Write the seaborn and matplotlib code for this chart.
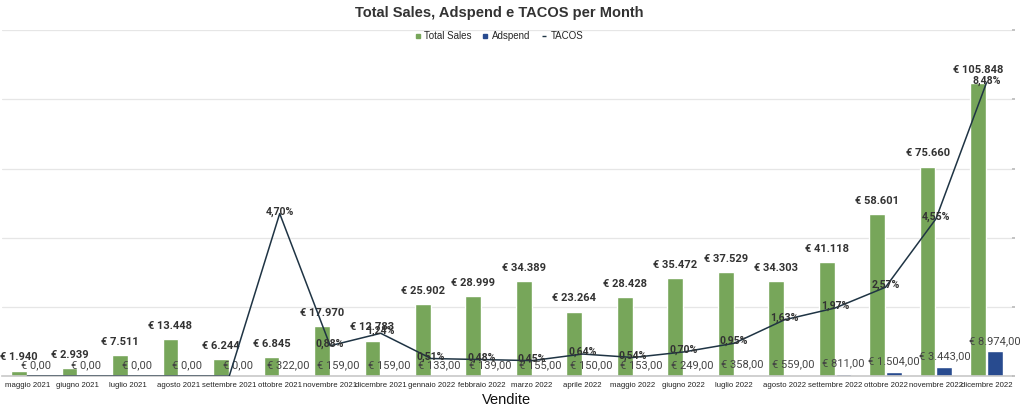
import pandas as pd
import matplotlib.pyplot as plt
import seaborn as sns
from matplotlib.lines import Line2D

# ---------- Data ----------
months = ["maggio 2021", "giugno 2021", "luglio 2021", "agosto 2021", "settembre 2021",
          "ottobre 2021", "novembre 2021", "dicembre 2021", "gennaio 2022", "febbraio 2022",
          "marzo 2022", "aprile 2022", "maggio 2022", "giugno 2022", "luglio 2022",
          "agosto 2022", "settembre 2022", "ottobre 2022", "novembre 2022", "dicembre 2022"]
total_sales = [1940, 2939, 7511, 13448, 6244, 6845, 17970, 12783, 25902, 28999,
               34389, 23264, 28428, 35472, 37529, 34303, 41118, 58601, 75660, 105848]
adspend = [0, 0, 0, 0, 0, 322, 159, 159, 133, 139,
           155, 150, 153, 249, 358, 559, 811, 1504, 3443, 8974]
tacos = [0, 0, 0, 0, 0, 4.70, 0.88, 1.24, 0.51, 0.48,
         0.45, 0.64, 0.54, 0.70, 0.95, 1.63, 1.97, 2.57, 4.55, 8.48]

GREEN = "#77a65a"
BLUE = "#284b8f"
LINE = "#1f3444"
TXT = "#333333"
ARIAL = ["Liberation Sans", "DejaVu Sans"]


def eur_int(v):
    return "€ " + f"{v:,.0f}".replace(",", ".")


def eur_dec(v):
    s = f"{v:,.2f}".replace(",", "X").replace(".", ",").replace("X", ".")
    return "€ " + s


def pct(v):
    return f"{v:.2f}%".replace(".", ",")


df = pd.DataFrame({
    "month": months * 2,
    "value": total_sales + adspend,
    "series": ["Total Sales"] * len(months) + ["Adspend"] * len(months),
})

sns.set_theme(style="white")
plt.rcParams["font.family"] = ["Roboto", "DejaVu Sans"]

fig = plt.figure(figsize=(10.24, 4.08), dpi=100)
ax = fig.add_axes([0.002, 0.078, 0.986, 0.848])

sns.barplot(data=df, x="month", y="value", hue="series", order=months,
            hue_order=["Total Sales", "Adspend"], palette=[GREEN, BLUE],
            saturation=1, width=0.66, gap=0.06, ax=ax, legend=False, zorder=2)

ax.set_ylim(0, 125000)
ax.set_xlim(-0.5, 19.5)
ax.set_yticks([25000, 50000, 75000, 100000, 125000])
ax.set_yticklabels([])
ax.grid(axis="y", color="#e6e6e6", linewidth=0.9, zorder=0)
ax.tick_params(axis="y", length=0)
ax.tick_params(axis="x", length=0, labelsize=5.6, colors="#222222", pad=4)
for lab in ax.get_xticklabels():
    lab.set_family(ARIAL)
for s in ["top", "right", "left"]:
    ax.spines[s].set_visible(False)
ax.spines["bottom"].set_color("#c8c8c8")
ax.spines["bottom"].set_linewidth(1.2)
ax.spines["bottom"].set_zorder(5)
ax.set_ylabel("")
ax.set_xlabel("Vendite", fontsize=10.5, color="#111111", labelpad=3, family=ARIAL)

sales_bars, ad_bars = ax.containers[0], ax.containers[1]
ax.bar_label(sales_bars, labels=[eur_int(v) for v in total_sales], padding=6,
             fontsize=8, fontweight="bold", color=TXT, zorder=6)
ax.bar_label(ad_bars, labels=[eur_dec(v) for v in adspend], padding=4,
             fontsize=8, color="#444444", zorder=6)

# ---------- TACOS on secondary axis ----------
ax2 = ax.twinx()
ax2.set_ylim(0, 10)
ax2.plot(range(len(months)), tacos, color=LINE, linewidth=1.1, zorder=3)
for i, v in enumerate(tacos):
    if v > 0:
        ax2.annotate(pct(v), (i, v), xytext=(0, 1.5), textcoords="offset points",
                     ha="center", va="center", fontsize=7.6, fontweight="bold", color=TXT)
ax2.set_yticks([0, 2, 4, 6, 8, 10])
ax2.set_yticklabels([])
ax2.tick_params(axis="y", length=2, color="#bbbbbb", direction="out")
for s in ["top", "right", "left", "bottom"]:
    ax2.spines[s].set_visible(False)

fig.suptitle("Total Sales, Adspend e TACOS per Month", x=0.488, y=0.985,
             fontsize=10.5, fontweight="bold", color="#333333", family=ARIAL)

handles = [
    Line2D([], [], marker="s", linestyle="", color=GREEN, markersize=3.5),
    Line2D([], [], marker="s", linestyle="", color=BLUE, markersize=3.5),
    Line2D([], [], marker="_", linestyle="", color=LINE, markersize=3),
]
fig.legend(handles, ["Total Sales", "Adspend", "TACOS"], loc="center",
           bbox_to_anchor=(0.487, 0.912), ncol=3, frameon=False,
           prop={"family": ARIAL, "size": 7},
           handletextpad=0.3, columnspacing=1.0, handlelength=0.8)

fig.savefig("out.png", dpi=100)
